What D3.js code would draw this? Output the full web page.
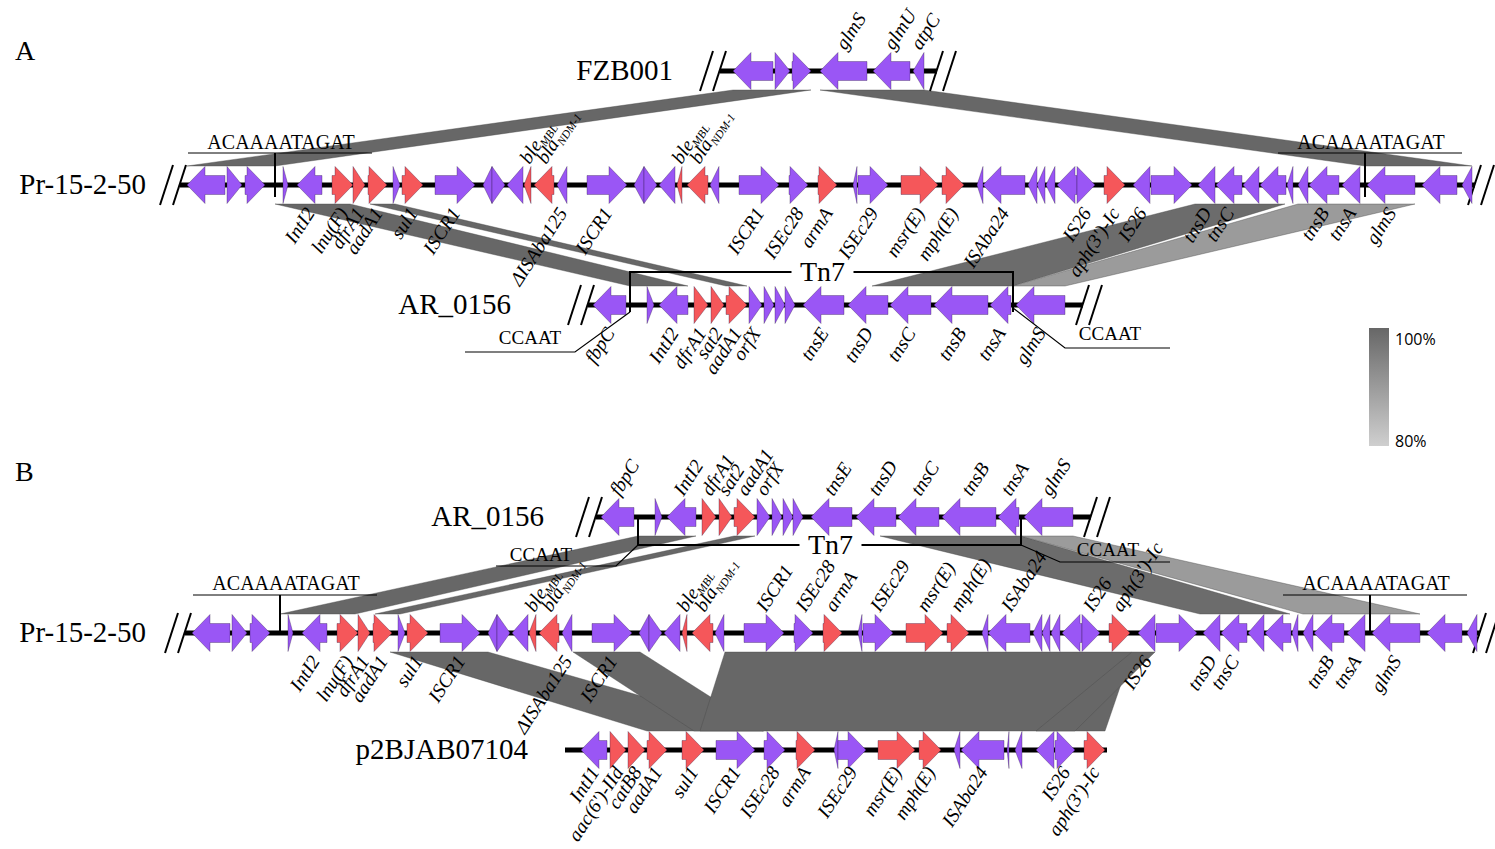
<!DOCTYPE html>
<html>
<head>
<meta charset="utf-8">
<script src="https://cdn.jsdelivr.net/npm/d3@7"></script>
<style>
body{margin:0;background:#fff}
text{font-family:"Liberation Serif","Times New Roman",serif;fill:#000}
</style>
</head>
<body>
<script>
// gene = [start, end, strand, kind, name]   kind: 'o' = other, 'r' = resistance
// coordinates are positions along each sequence (same unit for every track)
var fzbGenes = [
    [13, 53, -1, 'o', ''],
    [55, 70, 1, 'o', ''],
    [72, 91, 1, 'o', ''],
    [100, 147, -1, 'o', 'glmS'],
    [153, 190, -1, 'o', 'glmU'],
    [193, 204, -1, 'o', 'atpC']
];

var prGenes = [
    [7, 45, -1, 'o', ''],
    [47, 62, 1, 'o', ''],
    [65, 85, 1, 'o', ''],
    [103, 108, 1, 'o', ''],
    [117, 142, -1, 'o', 'IntI2'],
    [152, 173, 1, 'r', 'lnu(F)'],
    [173, 185, 1, 'r', 'dfrA1'],
    [188, 207, 1, 'r', 'aadA1'],
    [213, 220, 1, 'o', ''],
    [222, 243, 1, 'r', 'sul1'],
    [255, 295, 1, 'o', 'ISCR1'],
    [303, 312, -1, 'o', ''],
    [312, 325, 1, 'o', ''],
    [327, 343, -1, 'o', ''],
    [344, 351, -1, 'r', 'ble_MBL'],
    [354, 374, -1, 'r', 'bla_NDM-1'],
    [377, 387, -1, 'o', '\u0394ISAba125'],
    [407, 447, 1, 'o', 'ISCR1'],
    [454, 464, -1, 'o', ''],
    [464, 477, 1, 'o', ''],
    [479, 495, -1, 'o', ''],
    [497, 502, -1, 'r', 'ble_MBL'],
    [507, 528, -1, 'r', 'bla_NDM-1'],
    [530, 539, -1, 'o', ''],
    [559, 599, 1, 'o', 'ISCR1'],
    [609, 628, 1, 'o', 'ISEc28'],
    [638, 657, 1, 'r', 'armA'],
    [673, 677, -1, 'o', ''],
    [678, 708, 1, 'o', 'ISEc29'],
    [721, 758, 1, 'r', 'msr(E)'],
    [762, 784, 1, 'r', 'mph(E)'],
    [797, 803, -1, 'o', ''],
    [803, 845, -1, 'o', 'ISAba24'],
    [848, 857, -1, 'o', ''],
    [857, 865, -1, 'o', ''],
    [866, 875, -1, 'o', ''],
    [877, 897, -1, 'o', ''],
    [897, 915, 1, 'o', 'IS26'],
    [924, 945, 1, 'r', "aph(3')-Ic"],
    [953, 970, -1, 'o', 'IS26'],
    [971, 1012, 1, 'o', ''],
    [1018, 1035, -1, 'o', 'tnsD'],
    [1036, 1062, -1, 'o', 'tnsC'],
    [1063, 1079, -1, 'o', ''],
    [1080, 1106, -1, 'o', ''],
    [1107, 1113, -1, 'o', ''],
    [1118, 1128, -1, 'o', ''],
    [1129, 1159, -1, 'o', 'tnsB'],
    [1162, 1180, -1, 'o', 'tnsA'],
    [1187, 1235, -1, 'o', 'glmS'],
    [1242, 1277, -1, 'o', ''],
    [1282, 1292, -1, 'o', '']
];

var arGenes = [
    [5, 38, -1, 'o', 'fbpC'],
    [59, 66, 1, 'o', ''],
    [71, 100, -1, 'o', 'IntI2'],
    [106, 120, 1, 'r', 'dfrA1'],
    [123, 136, 1, 'r', 'sat2'],
    [138, 159, 1, 'r', 'aadA1'],
    [161, 174, 1, 'o', 'orfX'],
    [176, 186, 1, 'o', ''],
    [187, 197, 1, 'o', ''],
    [197, 207, 1, 'o', ''],
    [215, 256, -1, 'o', 'tnsE'],
    [260, 300, -1, 'o', 'tnsD'],
    [302, 343, -1, 'o', 'tnsC'],
    [346, 400, -1, 'o', 'tnsB'],
    [402, 423, -1, 'o', 'tnsA'],
    [428, 477, -1, 'o', 'glmS']
];

var p2Genes = [
    [16, 42, -1, 'o', 'IntI1'],
    [45, 61, 1, 'r', "aac(6')-IId"],
    [63, 80, 1, 'r', 'catB8'],
    [82, 102, 1, 'r', 'aadA1'],
    [117, 139, 1, 'r', 'sul1'],
    [151, 190, 1, 'o', 'ISCR1'],
    [199, 220, 1, 'o', 'ISEc28'],
    [231, 250, 1, 'r', 'armA'],
    [269, 273, -1, 'o', ''],
    [273, 301, 1, 'o', 'ISEc29'],
    [313, 350, 1, 'r', 'msr(E)'],
    [354, 376, 1, 'r', 'mph(E)'],
    [389, 395, -1, 'o', ''],
    [396, 439, -1, 'o', 'ISAba24'],
    [442, 444, -1, 'o', ''],
    [450, 457, -1, 'o', ''],
    [471, 489, -1, 'o', ''],
    [490, 510, 1, 'o', 'IS26'],
    [519, 540, 1, 'r', "aph(3')-Ic"]
];

// sequence lengths
var seqLengths = {fzb: 217, pr: 1295, ar: 495, p2: 542};

// gene indices of Pr-15-2-50 labelled above the line
var prUpA = [14, 15, 21, 22];
var prUpB = [14, 15, 21, 22, 24, 25, 26, 28, 29, 30, 32, 37, 38];

// ACAAAATAGAT sites on Pr-15-2-50, Tn7 / CCAAT boundaries on AR_0156
var attSites = [95, 1185];
var tn7Span = [42, 425];

// blast hits: [upper track, [start, end], lower track, [start, end], identity %]
var ribbons = [
    ['fzb', [13, 91], 'prA', [7, 95], 100],
    ['fzb', [100, 204], 'prA', [1185, 1292], 100],
    ['prA', [95, 170], 'arA', [42, 100], 100],
    ['prA', [190, 215], 'arA', [138, 159], 100],
    ['prA', [1015, 1105], 'arA', [284, 425], 99],
    ['prA', [1118, 1235], 'arA', [425, 477], 90],
    ['arB', [42, 100], 'prB', [95, 170], 100],
    ['arB', [138, 159], 'prB', [190, 215], 100],
    ['arB', [284, 425], 'prB', [1015, 1105], 99],
    ['arB', [425, 477], 'prB', [1118, 1235], 90],
    ['prB', [205, 303], 'p2', [82, 198], 100],
    ['prB', [388, 455], 'p2', [129, 199], 100],
    ['prB', [540, 947], 'p2', [135, 540], 100],
    ['prB', [947, 970], 'p2', [471, 510], 100]
];

var legendTicks = [100, 80];

// ---------------- layout ----------------
var W = 1495, H = 849;
var tracks = [
    {id: 'fzb', name: 'FZB001', genes: fzbGenes, len: seqLengths.fzb, x0: 720, y: 71, nameX: 673, up: 'all', breaks: true, dn: 28},
    {id: 'prA', name: 'Pr-15-2-50', genes: prGenes, len: seqLengths.pr, x0: 180, y: 185, nameX: 146, up: prUpA, breaks: true, dn: 28},
    {id: 'arA', name: 'AR_0156', genes: arGenes, len: seqLengths.ar, x0: 588, y: 305, nameX: 511, up: [], breaks: true, dn: 28},
    {id: 'arB', name: 'AR_0156', genes: arGenes, len: seqLengths.ar, x0: 596, y: 517, nameX: 544, up: 'all', breaks: true, dn: 28},
    {id: 'prB', name: 'Pr-15-2-50', genes: prGenes, len: seqLengths.pr, x0: 185, y: 633, nameX: 146, up: prUpB, breaks: true, dn: 28},
    {id: 'p2', name: 'p2BJAB07104', genes: p2Genes, len: seqLengths.p2, x0: 565, y: 750, nameX: 528, up: [], breaks: false, dn: 22}
];
var byId = {};
tracks.forEach(function (t) {
    t.x = d3.scaleLinear().domain([0, t.len]).range([t.x0, t.x0 + t.len]);
    byId[t.id] = t;
});

var HEAD_H = 18.5, BODY_H = 9.5, HEAD_L = 18, RIB_GAP = 19;
var colors = {o: '#9a56f5', r: '#f5575a'};
var identity = d3.scaleLinear().domain([80, 100]).range(['#cfcfcf', '#676767']);

var svg = d3.select('body').append('svg')
    .attr('width', W).attr('height', H);

var defs = svg.append('defs');
var grad = defs.append('linearGradient').attr('id', 'idgrad')
    .attr('x1', 0).attr('y1', 0).attr('x2', 0).attr('y2', 1);
grad.append('stop').attr('offset', '0%').attr('stop-color', identity(100));
grad.append('stop').attr('offset', '100%').attr('stop-color', identity(80));

// ribbons
svg.append('g').selectAll('path')
    .data(ribbons)
    .enter().append('path')
    .attr('d', function (r) {
        var a = byId[r[0]], b = byId[r[2]];
        var ya = a.y + RIB_GAP, yb = b.y - RIB_GAP;
        return 'M' + a.x(r[1][0]) + ',' + ya +
            'L' + a.x(r[1][1]) + ',' + ya +
            'L' + b.x(r[3][1]) + ',' + yb +
            'L' + b.x(r[3][0]) + ',' + yb + 'Z';
    })
    .attr('fill', function (r) { return identity(r[4]); })
    .attr('stroke', '#4a4a4a')
    .attr('stroke-width', 0.4);

function genePath(g, x, y) {
    var s = x(g[0]), e = x(g[1]), L = e - s;
    var h = Math.min(L, HEAD_L);
    var pts;
    if (g[2] > 0) {
        pts = h >= L - 0.5 ?
            [[s, y - HEAD_H], [e, y], [s, y + HEAD_H]] :
            [[s, y - BODY_H], [e - h, y - BODY_H], [e - h, y - HEAD_H], [e, y],
             [e - h, y + HEAD_H], [e - h, y + BODY_H], [s, y + BODY_H]];
    } else {
        pts = h >= L - 0.5 ?
            [[e, y - HEAD_H], [s, y], [e, y + HEAD_H]] :
            [[e, y - BODY_H], [s + h, y - BODY_H], [s + h, y - HEAD_H], [s, y],
             [s + h, y + HEAD_H], [s + h, y + BODY_H], [e, y + BODY_H]];
    }
    return 'M' + pts.map(function (p) { return p.join(','); }).join('L') + 'Z';
}

function geneLabel(g, name, x, y, up) {
    var t = g.append('text')
        .attr('transform', 'translate(' + x + ',' + y + ') rotate(-57)')
        .attr('text-anchor', up ? 'start' : 'end')
        .attr('font-style', 'italic')
        .attr('font-size', 19.5);
    var parts = name.split('_');
    t.append('tspan').text(parts[0]);
    if (parts[1]) t.append('tspan').attr('font-size', 11.5).attr('dy', 4).text(parts[1]);
}

tracks.forEach(function (t) {
    var g = svg.append('g');
    var x = t.x, y = t.y;
    var x1 = x(t.len);

    // backbone
    g.append('line')
        .attr('x1', x(0)).attr('x2', x1)
        .attr('y1', y).attr('y2', y)
        .attr('stroke', '#000').attr('stroke-width', 5);

    // break marks
    if (t.breaks) {
        [x(0) - 20, x(0) - 7, x1 - 7, x1 + 6].forEach(function (bx) {
            g.append('line')
                .attr('x1', bx).attr('y1', y + 20)
                .attr('x2', bx + 13).attr('y2', y - 20)
                .attr('stroke', '#000').attr('stroke-width', 2);
        });
    }

    // genes
    g.selectAll('path.gene')
        .data(t.genes)
        .enter().append('path')
        .attr('class', 'gene')
        .attr('d', function (d) { return genePath(d, x, y); })
        .attr('fill', function (d) { return colors[d[3]]; })
        .attr('stroke', 'rgba(40,20,60,0.55)')
        .attr('stroke-width', 0.6);

    // sequence name
    g.append('text')
        .attr('x', t.nameX).attr('y', y + 9)
        .attr('text-anchor', 'end')
        .attr('font-size', 29)
        .text(t.name);

    t.labelGroup = svg.append('g');
});

// ACAAAATAGAT sites
[['prA', -32, 12, -36], ['prB', -38, 0, -43]].forEach(function (m) {
    var t = byId[m[0]];
    attSites.forEach(function (p) {
        var cx = t.x(p);
        svg.append('line')
            .attr('x1', cx).attr('x2', cx)
            .attr('y1', t.y + m[1]).attr('y2', t.y + m[2])
            .attr('stroke', '#000').attr('stroke-width', 2);
        svg.append('line')
            .attr('x1', cx - 87).attr('x2', cx + 97)
            .attr('y1', t.y + m[1]).attr('y2', t.y + m[1])
            .attr('stroke', '#000').attr('stroke-width', 1);
        svg.append('text')
            .attr('x', cx + 6).attr('y', t.y + m[3])
            .attr('text-anchor', 'middle')
            .attr('font-size', 20)
            .text('ACAAAATAGAT');
    });
});

// Tn7 bracket and CCAAT boundaries
function tn7(t, dir) {
    var xl = t.x(tn7Span[0]), xr = t.x(tn7Span[1]), mid = (xl + xr) / 2;
    var by = dir < 0 ? t.y - 33 : t.y + 28;
    var g = svg.append('g').attr('fill', 'none').attr('stroke', '#000');
    var yEnd = dir < 0 ? t.y + 7 : t.y;
    g.append('path').attr('stroke-width', 2)
        .attr('d', 'M' + xl + ',' + yEnd + 'V' + by + 'H' + (mid - 30) +
            'M' + (mid + 32) + ',' + by + 'H' + xr + 'V' + yEnd);
    svg.append('text')
        .attr('x', mid + 1).attr('y', by + 9)
        .attr('text-anchor', 'middle')
        .attr('font-size', 28)
        .text('Tn7');
    var lp, rp, lt, rt;
    if (dir < 0) {
        lp = 'M' + xl + ',' + (t.y + 7) + 'L' + (xl - 55) + ',' + (t.y + 47) + 'H' + (xl - 165);
        rp = 'M' + xr + ',' + (t.y + 3) + 'L' + (xr + 52) + ',' + (t.y + 43) + 'H' + (xr + 157);
        lt = [xl - 100, t.y + 39];
        rt = [xr + 97, t.y + 35];
    } else {
        lp = 'M' + xl + ',' + by + 'L' + (xl - 22) + ',' + (by + 21) + 'H' + (xl - 142);
        rp = 'M' + xr + ',' + by + 'L' + (xr + 39) + ',' + (by + 17) + 'H' + (xr + 149);
        lt = [xl - 97, by + 16];
        rt = [xr + 87, by + 11];
    }
    g.append('path').attr('stroke-width', 1.2).attr('d', lp);
    g.append('path').attr('stroke-width', 1.2).attr('d', rp);
    [lt, rt].forEach(function (p) {
        svg.append('text')
            .attr('x', p[0]).attr('y', p[1])
            .attr('text-anchor', 'middle')
            .attr('font-size', 19)
            .text('CCAAT');
    });
}
tn7(byId.arA, -1);
tn7(byId.arB, 1);

// gene labels
tracks.forEach(function (t) {
    t.genes.forEach(function (d, i) {
        if (!d[4]) return;
        var up = t.up === 'all' || t.up.indexOf(i) >= 0;
        var cx = t.x((d[0] + d[1]) / 2);
        if (up) geneLabel(t.labelGroup, d[4], cx + 2, t.y - 20, true);
        else geneLabel(t.labelGroup, d[4], cx + 6, t.y + t.dn, false);
    });
});

// panel letters
svg.append('text').attr('x', 15).attr('y', 60).attr('font-size', 28).text('A');
svg.append('text').attr('x', 15).attr('y', 481).attr('font-size', 28).text('B');

// identity legend
var ly = d3.scaleLinear().domain([100, 80]).range([328, 446]);
svg.append('rect')
    .attr('x', 1369).attr('y', ly(100))
    .attr('width', 20).attr('height', ly(80) - ly(100))
    .attr('fill', 'url(#idgrad)');
svg.selectAll('text.leg')
    .data(legendTicks)
    .enter().append('text')
    .attr('class', 'leg')
    .attr('x', 1395)
    .attr('y', function (d) { return ly(d) + (d === 100 ? 17 : 1); })
    .attr('font-size', 16)
    .style('font-family', '"Open Sans","Noto Sans",sans-serif')
    .text(function (d) { return d + '%'; });
</script>
</body>
</html>
